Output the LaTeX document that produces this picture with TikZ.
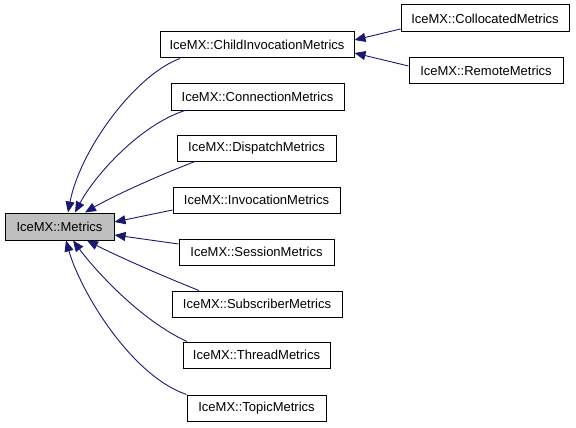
\documentclass[tikz,border=0pt]{standalone}
\usepackage{fontspec}
\setmainfont{Liberation Sans}
\usetikzlibrary{arrows.meta}
\definecolor{edgeblue}{HTML}{191970}
\definecolor{basegray}{HTML}{BFBFBF}

\begin{document}
\begin{tikzpicture}[x=1pt,y=-1pt,
    cls/.style={draw=black,line width=1pt,fill=white,inner sep=0pt,minimum height=26pt,
        font=\fontsize{13}{15}\selectfont},
    inh/.style={draw=edgeblue,line width=0.9pt,-{Triangle[length=11pt,width=9pt]}}]
                        \useasboundingbox (0,0) rectangle (576,428);
                        \node[cls,fill=basegray,minimum width=109pt,minimum height=27pt] (metrics) at (59.5,226.5) {IceMX::Metrics};
                        \node[cls,minimum width=194pt] (child) at (257,45) {IceMX::ChildInvocationMetrics};
                        \node[cls,minimum width=168pt,minimum height=27pt] (colloc) at (485,18.5) {IceMX::CollocatedMetrics};
                        \node[cls,minimum width=154pt] (remote) at (486,71) {IceMX::RemoteMetrics};
                        \node[cls,minimum width=173pt] (conn) at (257.5,97) {IceMX::ConnectionMetrics};
                        \node[cls,minimum width=159pt] (disp) at (256.5,148) {IceMX::DispatchMetrics};
                        \node[cls,minimum width=167pt] (inv) at (256.5,200) {IceMX::InvocationMetrics};
                        \node[cls,minimum width=155pt] (sess) at (256.5,252) {IceMX::SessionMetrics};
                        \node[cls,minimum width=170pt] (subs) at (257,304) {IceMX::SubscriberMetrics};
                        \node[cls,minimum width=147pt] (thread) at (256.5,355) {IceMX::ThreadMetrics};
                        \node[cls,minimum width=139pt] (topic) at (256.5,408) {IceMX::TopicMetrics};
                        % inheritance edges
                        \draw[inh] ([xshift=-77pt]child.south) .. controls (135,75) and (80,150) .. ([xshift=8.5pt]metrics.north);
                        \draw[inh] ([xshift=-72.5pt]conn.south) .. controls (140,125) and (95,175) .. ([xshift=15.5pt]metrics.north);
                        \draw[inh] ([xshift=-61.5pt]disp.south) .. controls (160,175) and (115,195) .. ([xshift=25.5pt]metrics.north);
                        \draw[inh] ([yshift=-10pt]inv.west) -- ([yshift=4.5pt]metrics.east);
                        \draw[inh] ([yshift=8pt]sess.west) -- ([yshift=-8.5pt]metrics.east);
                        \draw[inh] ([xshift=-58pt]subs.north) .. controls (160,275) and (115,255) .. ([xshift=27.5pt]metrics.south);
                        \draw[inh] ([xshift=-69.5pt]thread.north) .. controls (140,320) and (95,270) .. ([xshift=13.5pt]metrics.south);
                        \draw[inh] (topic.north west) .. controls (130,375) and (80,290) .. ([xshift=6.5pt]metrics.south);
                        \draw[inh] ([yshift=-10.5pt]colloc.west) -- ([yshift=5pt]child.east);
                        \draw[inh] ([yshift=5pt]remote.west) -- ([yshift=-8pt]child.east);
                    \end{tikzpicture}
\end{document}
